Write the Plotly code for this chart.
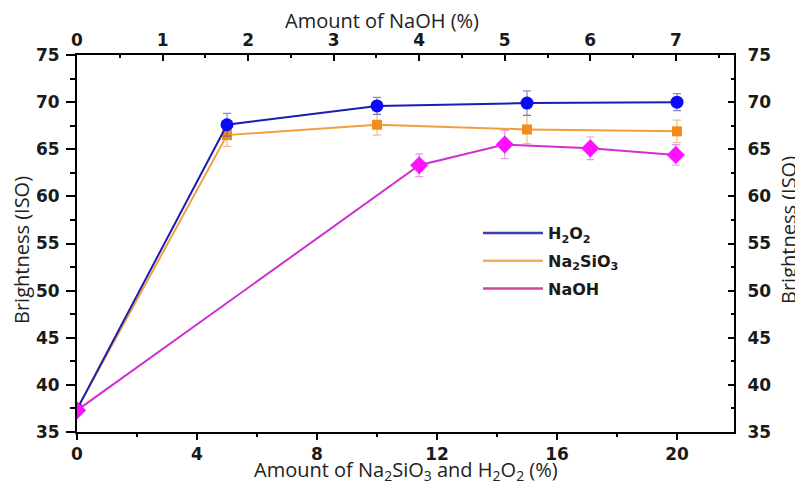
import plotly.graph_objects as go

# ---- data ----
x_bottom = [0, 5, 10, 15, 20]          # Amount of Na2SiO3 and H2O2 (%)
h2o2 = [37.4, 67.6, 69.6, 69.9, 70.0]
h2o2_err = [0, 1.2, 0.9, 1.3, 0.9]
na2sio3 = [37.4, 66.5, 67.6, 67.1, 66.9]
na2sio3_err = [0, 1.2, 1.1, 1.5, 1.2]
x_top = [0, 4, 5, 6, 7]                # Amount of NaOH (%)
naoh = [37.3, 63.3, 65.5, 65.1, 64.4]
naoh_err = [0, 1.2, 1.5, 1.2, 1.1]

series_names = ["H<sub>2</sub>O<sub>2</sub>", "Na<sub>2</sub>SiO<sub>3</sub>", "NaOH"]
legend_colors = ["#3c3cb4", "#f0b060", "#d04898"]

TICKFONT = dict(family="DejaVu Sans", size=17, color="#1a1a1a", weight="bold")
TITLEFONT = dict(family="Open Sans", size=20, color="#222222")

fig = go.Figure()

fig.add_trace(go.Scatter(
    x=x_bottom, y=na2sio3, mode="lines+markers", showlegend=False,
    line=dict(color="#f0a040", width=2),
    marker=dict(symbol="square", size=10, color="#f28c1a"),
    error_y=dict(type="data", array=na2sio3_err, color="rgba(225,165,90,0.7)", thickness=1.2, width=4),
    xaxis="x", yaxis="y"))

fig.add_trace(go.Scatter(
    x=x_bottom, y=h2o2, mode="lines+markers", showlegend=False,
    line=dict(color="#1c1cb0", width=2),
    marker=dict(symbol="circle", size=13, color="#0a0af5"),
    error_y=dict(type="data", array=h2o2_err, color="rgba(90,90,170,0.7)", thickness=1.2, width=4),
    xaxis="x", yaxis="y"))

fig.add_trace(go.Scatter(
    x=x_top, y=naoh, mode="lines+markers", showlegend=False,
    line=dict(color="#d030d0", width=2),
    marker=dict(symbol="diamond", size=14, color="#ff10ff"),
    error_y=dict(type="data", array=naoh_err, color="rgba(210,120,210,0.7)", thickness=1.2, width=4),
    xaxis="x2", yaxis="y2"))

# legend-only entries (lines without markers)
for i, (nm, col) in enumerate(zip(series_names, legend_colors)):
    fig.add_trace(go.Scatter(
        x=[None], y=[None], mode="lines", name=nm,
        line=dict(color=col, width=2.5), legendgroup=f"g{i}",
        xaxis="x", yaxis="y"))

axis_common = dict(showline=True, linecolor="black", linewidth=2, showgrid=False,
                   zeroline=False, tickcolor="black", tickwidth=2, tickfont=TICKFONT,
                   automargin=False)

W, H = 795, 475
L, R, T, B = 69, 69, 47, 51
pw, ph = W - L - R, H - T - B


def px(fx):
    return (fx - L) / pw


def py(fy):
    return (H - B - fy) / ph


fig.update_layout(
    width=W, height=H,
    margin=dict(l=L, r=R, t=T, b=B),
    paper_bgcolor="white", plot_bgcolor="white",
    showlegend=True,
    legend=dict(x=px(470), y=py(208), xanchor="left", yanchor="top",
                itemwidth=60,
                font=dict(family="DejaVu Sans", size=16, color="#1a1a1a", weight="bold"),
                bgcolor="rgba(0,0,0,0)", traceorder="grouped", tracegroupgap=4),
    xaxis=dict(range=[0, 21.9], tickvals=[0, 4, 8, 12, 16, 20], ticks="outside", ticklen=6,
               minor=dict(dtick=2, tick0=0, ticks="outside", ticklen=3, tickwidth=2, tickcolor="black"),
               **axis_common),
    xaxis2=dict(range=[0, 7.68], overlaying="x", side="top", anchor="y2",
                tickvals=[0, 1, 2, 3, 4, 5, 6, 7], ticks="inside", ticklen=6,
                minor=dict(dtick=0.5, tick0=0, ticks="inside", ticklen=3, tickwidth=2, tickcolor="black"),
                **axis_common),
    yaxis=dict(range=[35, 75], dtick=5, ticks="outside", ticklen=9, ticklabelstandoff=3,
               minor=dict(dtick=2.5, tick0=35, ticks="outside", ticklen=5, tickwidth=2, tickcolor="black"),
               **axis_common),
    yaxis2=dict(range=[35, 75], dtick=5, overlaying="y", side="right", anchor="x2",
                ticks="inside", ticklen=6, ticklabelstandoff=8,
                minor=dict(dtick=2.5, tick0=35, ticks="inside", ticklen=3, tickwidth=2, tickcolor="black"),
                **axis_common),
    annotations=[
        dict(text="Amount of NaOH (%)", xref="paper", yref="paper",
             x=px(374), y=py(13), showarrow=False,
             xanchor="center", yanchor="middle", font=TITLEFONT),
        dict(text="Amount of Na<sub>2</sub>SiO<sub>3</sub> and H<sub>2</sub>O<sub>2</sub> (%)",
             xref="paper", yref="paper", x=px(397.5), y=py(462), showarrow=False,
             xanchor="center", yanchor="middle", font=TITLEFONT),
        dict(text="Brightness (ISO)", xref="paper", yref="paper", textangle=-90,
             x=px(14), y=py(242), showarrow=False,
             xanchor="center", yanchor="middle", font=TITLEFONT),
        dict(text="Brightness (ISO)", xref="paper", yref="paper", textangle=-90,
             x=px(780), y=py(222), showarrow=False,
             xanchor="center", yanchor="middle", font=TITLEFONT),
    ],
)

fig.write_html("out.html")
